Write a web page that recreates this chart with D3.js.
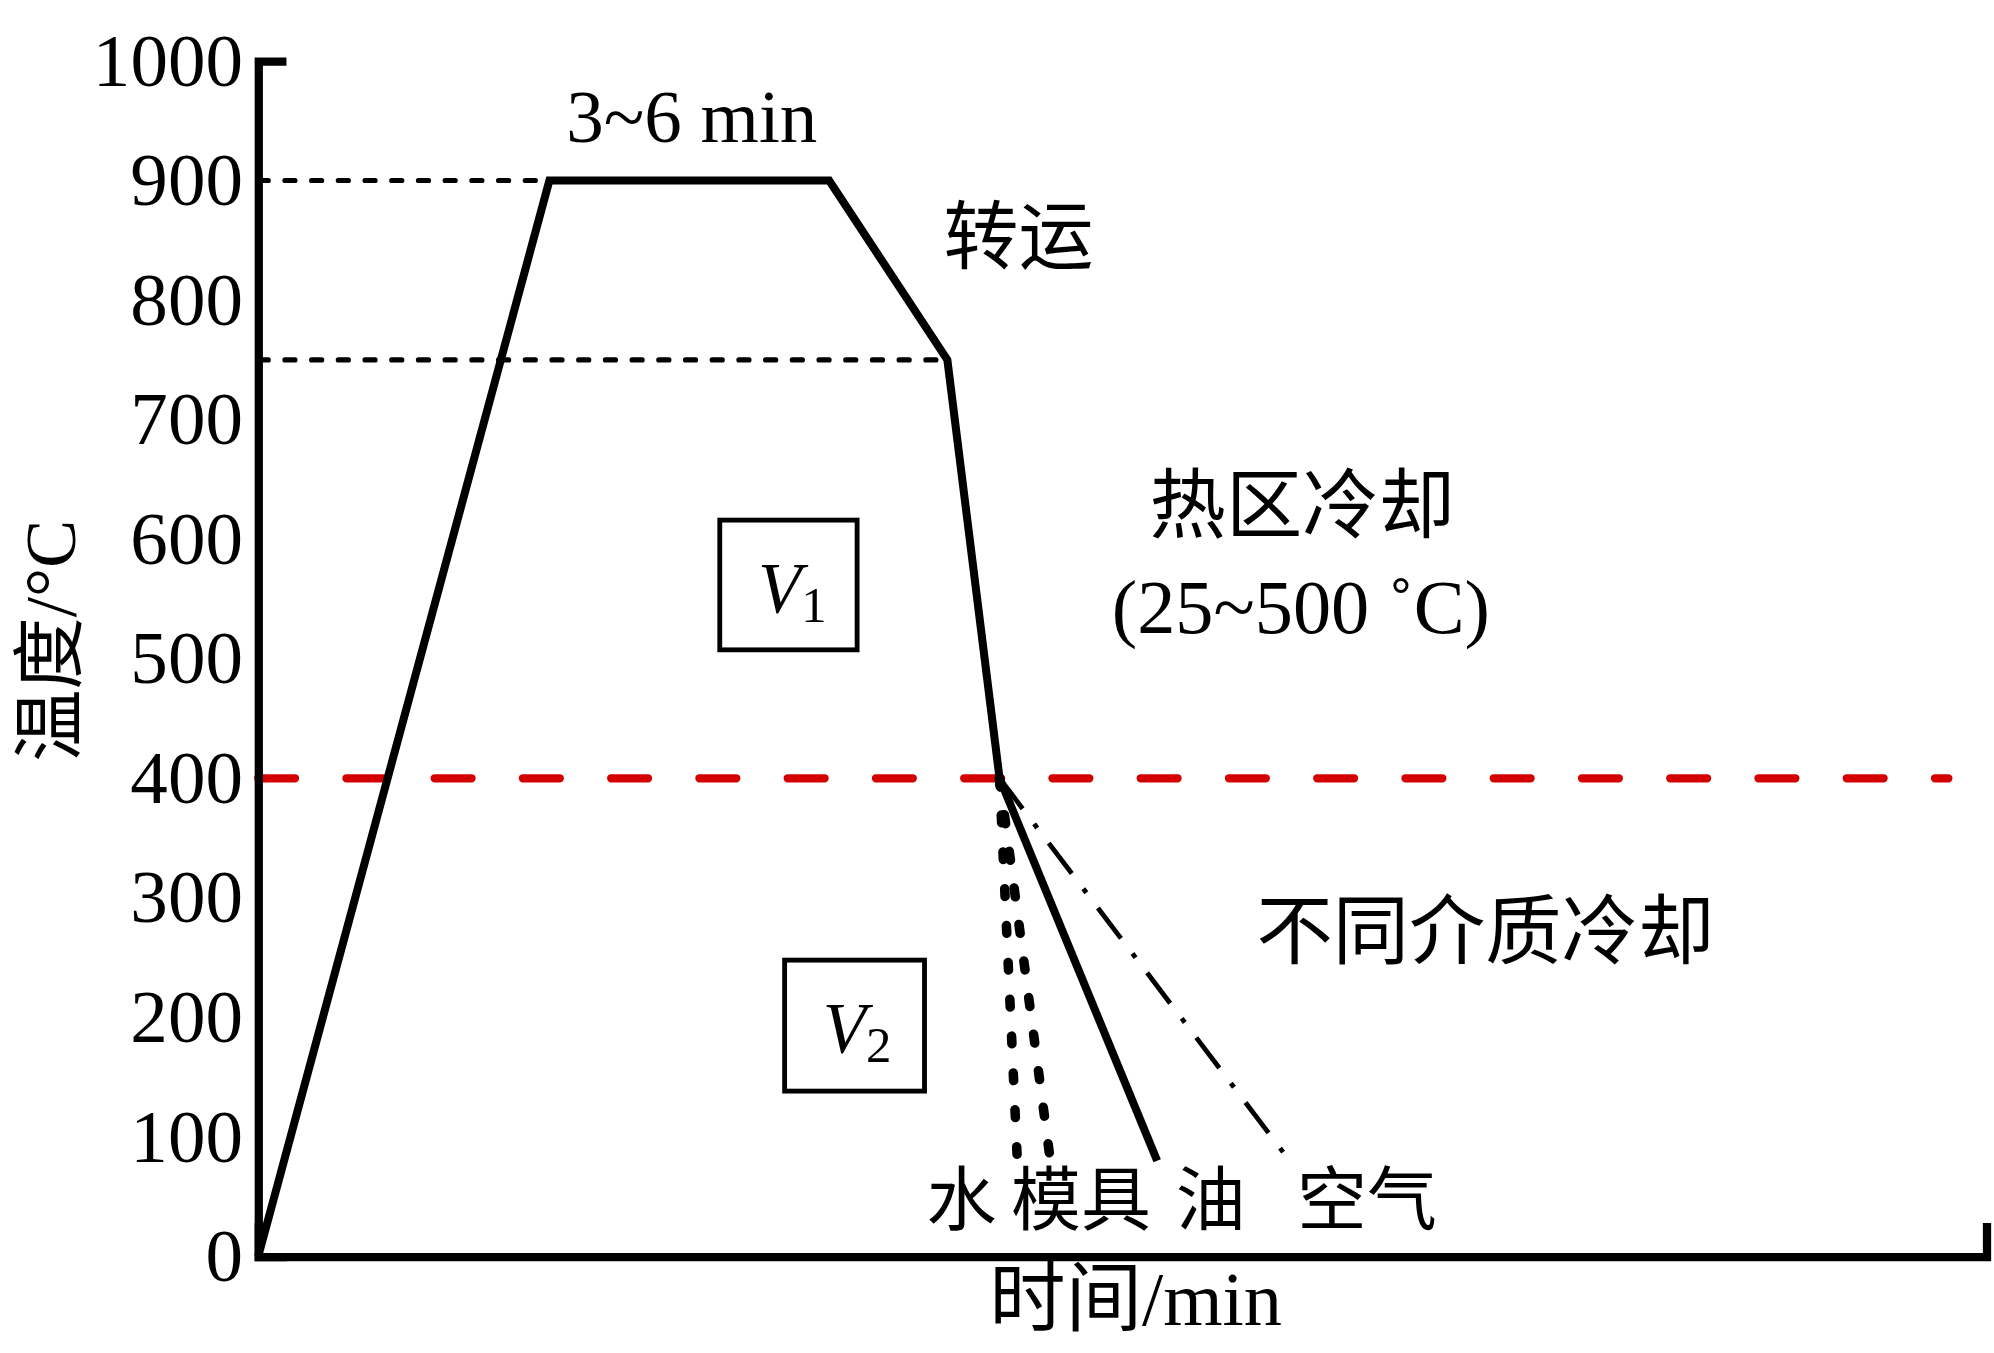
<!DOCTYPE html>
<html><head><meta charset="utf-8">
<script src="https://cdn.jsdelivr.net/npm/d3@7"></script>
<style>
html,body{margin:0;padding:0;background:#fff;}
svg{display:block;}
text{font-family:"Liberation Serif","Times New Roman","Noto Sans CJK SC",serif;fill:#000;}
</style></head><body>
<svg id="chart" width="1994" height="1353"></svg>
<script>
// ---- data ----
const yTicks = [0, 100, 200, 300, 400, 500, 600, 700, 800, 900, 1000];
// heat-treatment process path (time in arbitrary units, temperature in °C)
const processTime = [0, 16.85, 33.04, 39.88, 42.90];
const processTemp = [0, 900, 900, 750, 400];
// quench media branches starting from the 400 °C point
const mediaNames = ["水", "模具", "油", "空气"];
const mediaEndTime = [43.93, 45.84, 52.02, 59.53];
const mediaEndTemp = [80, 80, 80, 83];
// horizontal reference lines
const refTemps = [900, 750, 400];
const refEndTime = [16.85, 39.88, 97.8];

// ---- layout (drawn in a 1568x1064 frame, scaled to the page) ----
const S = 1994 / 1568;
const svg = d3.select("#chart");
const g = svg.append("g").attr("transform", `scale(${S})`);

const x = d3.scaleLinear().domain([0, 100]).range([203, 1562]);
const y = d3.scaleLinear().domain([0, 1000]).range([988, 48]);

const mediaStyle = {
  "水":   {w: 7.5, dash: "6 23", cap: "round"},
  "模具": {w: 7.5, dash: "7 22", cap: "round"},
  "油":   {w: 6.3, dash: null, cap: "butt"},
  "空气": {w: 3.8, dash: "30 15 4 15", cap: "butt"}
};

// reference lines
refTemps.forEach((T, i) => {
  const red = T === 400;
  g.append("line")
    .attr("x1", x(0)).attr("x2", x(refEndTime[i]))
    .attr("y1", y(T)).attr("y2", y(T))
    .attr("stroke", red ? "#d40000" : "#000")
    .attr("stroke-width", red ? 6.5 : 4)
    .attr("stroke-dasharray", red ? "29 40.4" : "8 13")
    .attr("stroke-linecap", "round");
});

// axes
const yAxis = d3.axisLeft(y).tickValues(yTicks).tickSizeInner(0).tickSizeOuter(-19).tickPadding(12).tickFormat(d3.format("d"));
const gy = g.append("g").attr("transform", `translate(${x(0)},0)`).call(yAxis);
gy.select(".domain").attr("stroke", "#000").attr("stroke-width", 6.5).attr("stroke-linejoin", "miter").attr("stroke-linecap", "square");
gy.selectAll(".tick line").remove();
gy.selectAll(".tick text").attr("font-size", 59).attr("font-family", "Liberation Serif").attr("fill", "#000");

const xAxis = d3.axisBottom(x).tickValues([]).tickSizeOuter(-23);
const gx = g.append("g").attr("transform", `translate(0,${y(0)})`).call(xAxis);
gx.select(".domain").attr("stroke", "#000").attr("stroke-width", 6.5).attr("stroke-linejoin", "miter").attr("stroke-linecap", "square");

// process path
const line = d3.line().x(d => x(d[0])).y(d => y(d[1]));
const pts = processTime.map((t, i) => [t, processTemp[i]]);
g.append("path").attr("d", line(pts)).attr("fill", "none")
  .attr("stroke", "#000").attr("stroke-width", 6.3).attr("stroke-linejoin", "miter");

// quench media branches
const last = pts[pts.length - 1];
mediaNames.forEach((m, i) => {
  const st = mediaStyle[m];
  g.append("path").attr("d", line([last, [mediaEndTime[i], mediaEndTemp[i]]]))
    .attr("fill", "none").attr("stroke", "#000")
    .attr("stroke-width", st.w)
    .attr("stroke-dasharray", st.dash)
    .attr("stroke-linecap", st.cap);
});

// boxes V1, V2
function vbox(x0, y0, w, h, sub, vx, base) {
  g.append("rect").attr("x", x0).attr("y", y0).attr("width", w).attr("height", h)
    .attr("fill", "none").attr("stroke", "#000").attr("stroke-width", 3.8);
  g.append("text").attr("x", vx).attr("y", base).attr("font-size", 56)
    .attr("font-style", "italic").text("V");
  g.append("text").attr("x", vx + 34).attr("y", base + 8).attr("font-size", 40).text(sub);
}
vbox(566, 409, 108, 102, "1", 596, 481);
vbox(617, 755, 110, 103, "2", 647, 827);

// annotations
function label(txt, cx, cy, fs, anchor) {
  g.append("text").attr("x", cx).attr("y", cy).attr("font-size", fs)
    .attr("text-anchor", anchor || "middle").attr("dominant-baseline", "central").text(txt);
}
label("3~6 min", 544, 92, 59);
label("转运", 801, 187, 59);
label("热区冷却", 1024, 398, 60);
label("(25~500 ˚C)", 1023, 478, 60);
label("不同介质冷却", 1168, 733, 60);
label("水", 756, 945, 55);
label("模具", 850, 945, 55);
label("油", 952, 945, 55);
label("空气", 1075, 945, 55);
label("时间/min", 893, 1022, 60);

g.append("text").attr("transform", "translate(40,504) rotate(-90)")
  .attr("text-anchor", "middle").attr("dominant-baseline", "central")
  .attr("font-size", 57).text("温度/°C");
</script>
</body></html>
